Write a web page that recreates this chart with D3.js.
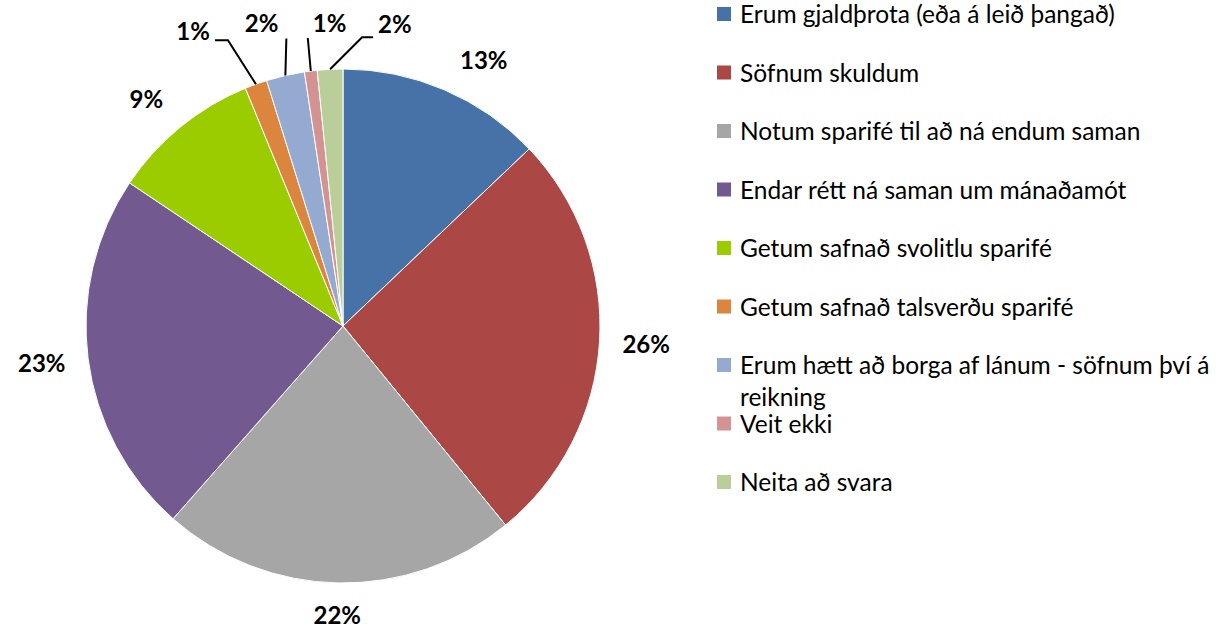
<!DOCTYPE html>
<html>
<head>
<meta charset="utf-8">
<script src="https://cdn.jsdelivr.net/npm/d3@7"></script>
<style>
  html, body { margin: 0; padding: 0; background: #fff; }
  svg { display: block; }
</style>
</head>
<body>
<svg id="chart" width="1219" height="630"></svg>
<script>
// ---- data ----
const categories = [
  "Erum gjaldþrota (eða á leið þangað)",
  "Söfnum skuldum",
  "Notum sparifé til að ná endum saman",
  "Endar rétt ná saman um mánaðamót",
  "Getum safnað svolitlu sparifé",
  "Getum safnað talsverðu sparifé",
  "Erum hætt að borga af lánum - söfnum því á reikning",
  "Veit ekki",
  "Neita að svara"
];
const values = [12.9, 26.2, 22.4, 22.9, 9.4, 1.4, 2.4, 0.8, 1.6];
const labels = ["13%", "26%", "22%", "23%", "9%", "1%", "2%", "1%", "2%"];
const colors = ["#4672A8", "#AB4744", "#A6A6A6", "#725A91", "#9BCC00", "#DC853E", "#94AAD0", "#D39393", "#B9CE98"];

// ---- layout ----
const W = 1219, H = 630;
const cx = 343, cy = 326, R = 257;
const labelRadius = 280;
const labelFont = "Lato, 'Open Sans', sans-serif";
// pixel nudge for outside labels; null => uses leader line
const labelNudge = [[21, 0], [0, 0], [0, 0], [0, 0], [-9, -3], null, null, null, null];
// leader line layout for small slices: elbow offset from slice edge, end offset from elbow, text anchor/offset
const leaders = {
  5: { elbow: [-28, -44], end: [-13, 0], anchor: "end",   text: [-5, 0] },
  6: { elbow: [1, -37],   end: [0, 0],   anchor: "end",   text: [-8, -7] },
  7: { elbow: [-3, -33],  end: [0, 0],   anchor: "start", text: [5, -6] },
  8: { elbow: [32, -32],  end: [11, 0],  anchor: "start", text: [5, -4] }
};

const svg = d3.select("#chart");
const g = svg.append("g").attr("transform", `translate(${cx},${cy})`);

const pie = d3.pie().sort(null).value(d => d)(values);
const arc = d3.arc().innerRadius(0).outerRadius(R);

g.selectAll("path.slice")
  .data(pie)
  .join("path")
  .attr("class", "slice")
  .attr("d", arc)
  .attr("fill", (d, i) => colors[i])
  .attr("stroke", "#fff")
  .attr("stroke-width", 1);

pie.forEach((d, i) => {
  const mid = (d.startAngle + d.endAngle) / 2;
  if (labelNudge[i] !== null) {
    const t = g.append("text")
      .attr("text-anchor", "middle")
      .attr("font-family", labelFont)
      .attr("font-weight", "bold")
      .attr("font-size", 24)
      .attr("fill", "#000")
      .text(labels[i]);
    const w = t.node().getComputedTextLength();
    const h = 18;
    const sa = Math.sin(mid), ca = Math.cos(mid);
    const x = labelRadius * sa + sa * w / 2 + labelNudge[i][0];
    const y = -labelRadius * ca - ca * h / 2 + labelNudge[i][1];
    t.attr("x", x).attr("y", y + h / 2);
  } else {
    const L = leaders[i];
    const sx = R * Math.sin(mid), sy = -R * Math.cos(mid);
    const ex = sx + L.elbow[0], ey = sy + L.elbow[1];
    const fx = ex + L.end[0], fy = ey + L.end[1];
    g.append("path")
      .attr("d", d3.line()([[sx, sy], [ex, ey], [fx, fy]]))
      .attr("fill", "none")
      .attr("stroke", "#000")
      .attr("stroke-width", 2);
    g.append("text")
      .attr("x", fx + L.text[0]).attr("y", fy + L.text[1])
      .attr("text-anchor", L.anchor)
      .attr("font-family", labelFont)
      .attr("font-weight", "bold")
      .attr("font-size", 24)
      .attr("fill", "#000")
      .text(labels[i]);
  }
});

// ---- legend ----
const legX = 717, legY0 = 14, legStep = 58.5, sq = 14;
const textX = 740, maxTextW = W - textX - 2;
const leg = svg.append("g");
categories.forEach((c, i) => {
  const yc = legY0 + legStep * i;
  leg.append("rect")
    .attr("x", legX).attr("y", yc - sq / 2)
    .attr("width", sq).attr("height", sq)
    .attr("fill", colors[i]);
  const t = leg.append("text")
    .attr("x", textX).attr("y", yc + 9)
    .attr("font-family", labelFont)
    .attr("font-size", 24.5)
    .attr("fill", "#000");
  // word wrap
  const words = c.split(" ");
  let line = [];
  let tspan = t.append("tspan").attr("x", textX).attr("dy", 0);
  words.forEach(w => {
    line.push(w);
    tspan.text(line.join(" "));
    if (tspan.node().getComputedTextLength() > maxTextW && line.length > 1) {
      line.pop();
      tspan.text(line.join(" "));
      line = [w];
      tspan = t.append("tspan").attr("x", textX).attr("dy", 32).text(w);
    }
  });
});
</script>
</body>
</html>
